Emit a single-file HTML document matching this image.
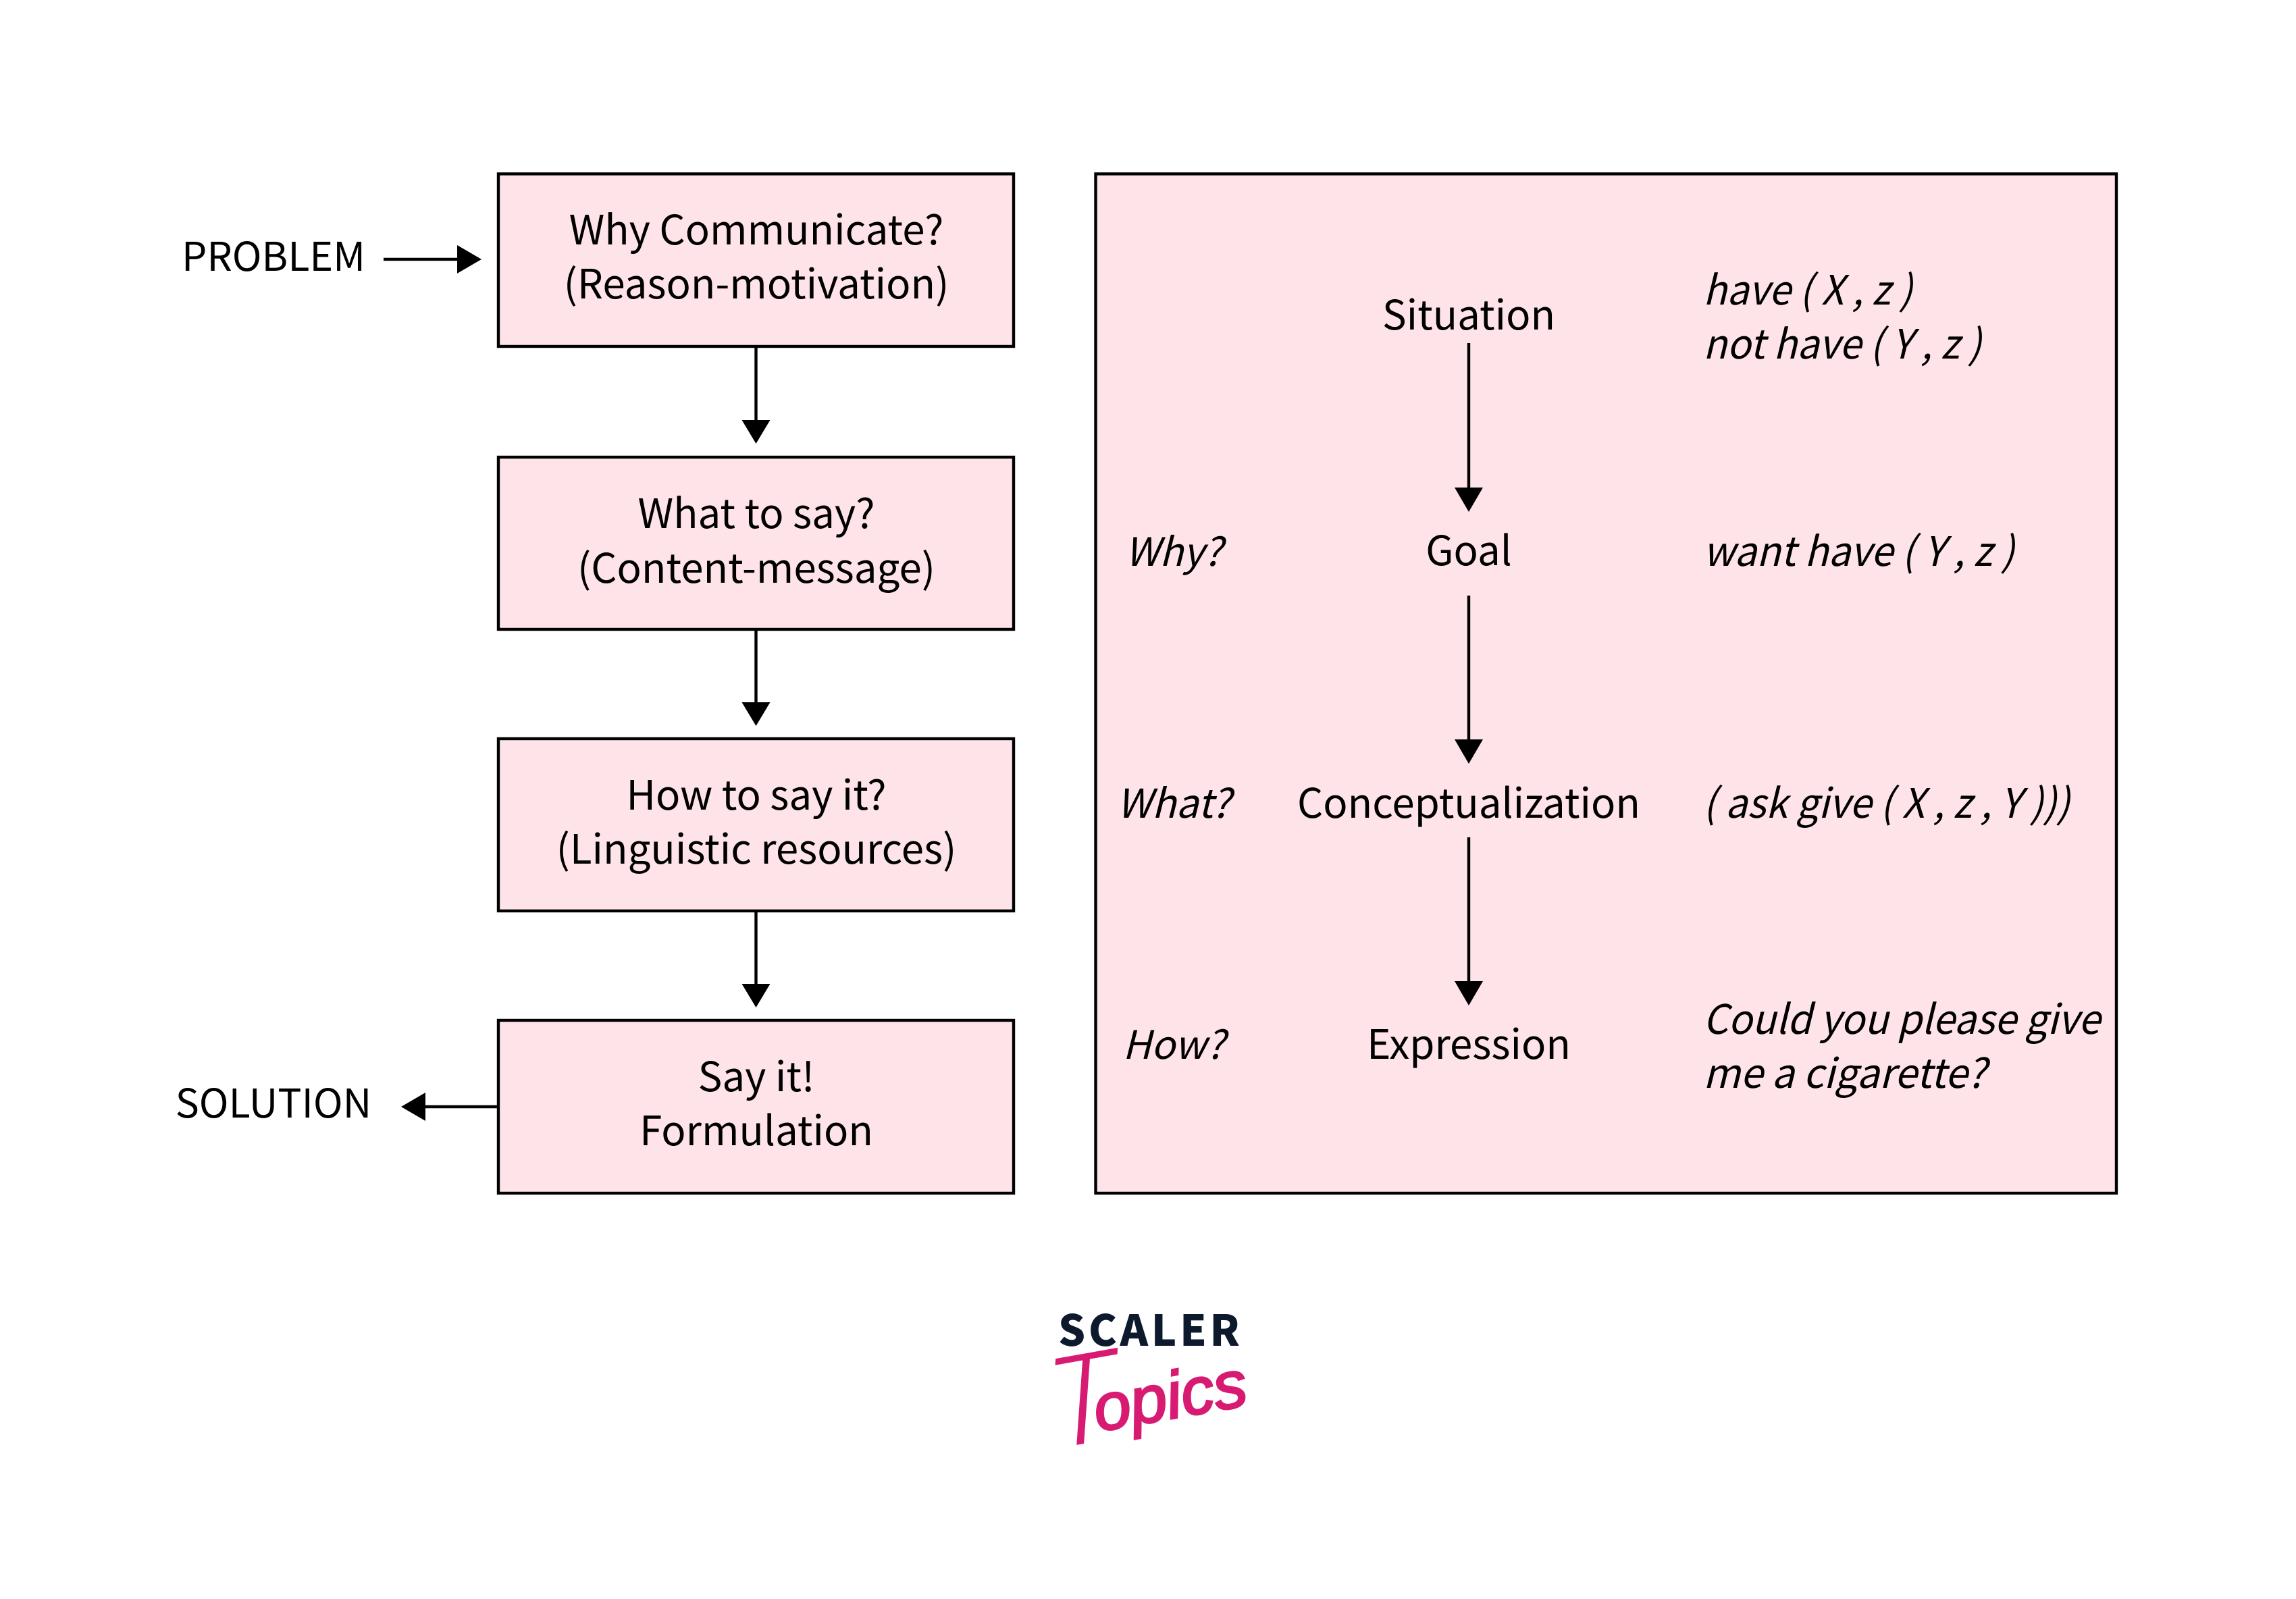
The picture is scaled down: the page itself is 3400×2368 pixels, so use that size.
<!DOCTYPE html>
<html>
<head>
<meta charset="utf-8">
<style>
html,body{margin:0;padding:0;background:#fff;width:3400px;height:2368px;overflow:hidden}
svg{display:block}
text{font-family:"Noto Sans CJK JP","Liberation Sans",sans-serif;font-size:60px;fill:#000}
.c{text-anchor:middle}
.i{font-style:italic}
.b{fill:#fee4e9;stroke:#000;stroke-width:4.4}
.l{stroke:#000;stroke-width:4.4;fill:none}
</style>
</head>
<body>
<svg width="3400" height="2368" viewBox="0 0 3400 2368" xmlns="http://www.w3.org/2000/svg">
<rect width="3400" height="2368" fill="#fff"/>

<rect class="b" x="738" y="257.5" width="763" height="255.5"/>
<rect class="b" x="738" y="677" width="763" height="255"/>
<rect class="b" x="738" y="1094" width="763" height="255"/>
<rect class="b" x="738" y="1511" width="763" height="256"/>
<rect class="b" x="1622.5" y="257.5" width="1511.5" height="1509.5"/>

<text class="c" x="1120" y="362">Why Communicate?</text>
<text class="c" x="1120" y="442">(Reason-motivation)</text>
<text class="c" x="1120" y="782">What to say?</text>
<text class="c" x="1120" y="863">(Content-message)</text>
<text class="c" x="1120" y="1199">How to say it?</text>
<text class="c" x="1120" y="1279">(Linguistic resources)</text>
<text class="c" x="1120" y="1616">Say it!</text>
<text class="c" x="1120" y="1696">Formulation</text>

<text class="c" x="405" y="401" style="font-size:59px">PROBLEM</text>
<text class="c" x="405" y="1655" style="font-size:59px">SOLUTION</text>

<path class="l" d="M568 384H680"/>
<polygon points="677,363 713,384 677,405"/>
<path class="l" d="M1119.5 513V625"/>
<polygon points="1098.5,622 1140.5,622 1119.5,657"/>
<path class="l" d="M1119.5 932V1043"/>
<polygon points="1098.5,1040 1140.5,1040 1119.5,1075"/>
<path class="l" d="M1119.5 1349V1460"/>
<polygon points="1098.5,1457 1140.5,1457 1119.5,1492"/>
<path class="l" d="M738 1639H627"/>
<polygon points="630,1618 594,1639 630,1660"/>

<path class="l" d="M2175 508V725"/>
<polygon points="2154,722 2196,722 2175,758"/>
<path class="l" d="M2175 882V1098"/>
<polygon points="2154,1095 2196,1095 2175,1131"/>
<path class="l" d="M2175 1240V1456"/>
<polygon points="2154,1453 2196,1453 2175,1489"/>

<text class="c" x="2175" y="488">Situation</text>
<text class="c" x="2175" y="837">Goal</text>
<text class="c" x="2175" y="1211">Conceptualization</text>
<text class="c" x="2175" y="1568">Expression</text>

<text class="c i" x="1738" y="838" style="font-size:58px">Why?</text>
<text class="c i" x="1738" y="1211" style="font-size:59px">What?</text>
<text class="c i" x="1738" y="1568" style="font-size:58px">How?</text>

<text class="i" x="2522" y="451" textLength="310" lengthAdjust="spacingAndGlyphs">have ( X , z )</text>
<text class="i" x="2522" y="531" textLength="412" lengthAdjust="spacingAndGlyphs">not have ( Y , z )</text>
<text class="i" x="2522" y="838" textLength="461" lengthAdjust="spacingAndGlyphs">want have ( Y , z )</text>
<text class="i" x="2522" y="1211" textLength="543" lengthAdjust="spacingAndGlyphs">( ask give ( X , z , Y )))</text>
<text class="i" x="2522" y="1531" textLength="588" lengthAdjust="spacingAndGlyphs">Could you please give</text>
<text class="i" x="2522" y="1611" textLength="419" lengthAdjust="spacingAndGlyphs">me a cigarette?</text>

<text x="1567" y="1993" style="font-size:63px;font-weight:900;fill:#0d1a2e" textLength="269" lengthAdjust="spacing">SCALER</text>
<text transform="translate(1548,2148) rotate(-10)" style="font-family:'Liberation Sans',sans-serif;font-style:italic;font-size:98px;fill:#d81b72;stroke:#d81b72;stroke-width:3"><tspan style="font-family:'Noto Sans CJK JP',sans-serif;font-size:180px;font-weight:300;stroke-width:0">T</tspan><tspan dx="-24" dy="-14">opics</tspan></text>
</svg>
</body>
</html>
